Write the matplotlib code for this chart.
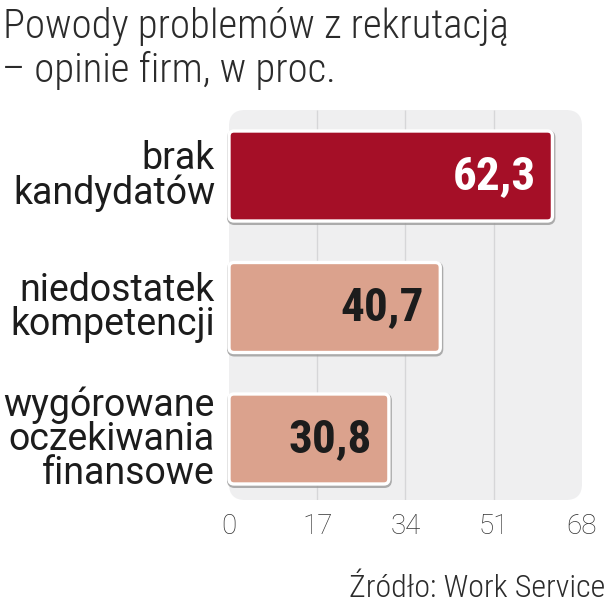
"""Powody problemów z rekrutacją – horizontal bar chart recreation."""
import matplotlib

matplotlib.use("Agg")
import matplotlib.pyplot as plt
from matplotlib.patches import FancyBboxPatch

categories = ["brak\nkandydatów", "niedostatek\nkompetencji",
              "wygórowane\noczekiwania\nfinansowe"]
values = [62.3, 40.7, 30.8]
value_labels = ["62,3", "40,7", "30,8"]
ticks = [0, 17, 34, 51, 68]

BAR_COLORS = ["#a50f27", "#dba28d", "#dba28d"]
TEXT_COLORS = ["white", "#1c1c1c", "#1c1c1c"]
PANEL = "#efeff0"
GRID = "#d6d6d8"
COND = ["Roboto Condensed", "Roboto", "DejaVu Sans"]
ROBOTO = ["Roboto", "DejaVu Sans"]

W, H, DPI = 608, 612, 100
fig = plt.figure(figsize=(W / DPI, H / DPI), dpi=DPI)
fig.patch.set_facecolor("white")

# axes box in pixels (left, top, right, bottom) of the grey panel
L, T, R, B = 229, 110, 582, 500
ax = fig.add_axes([L / W, 1 - B / H, (R - L) / W, (B - T) / H])
y_top, y_bot = -0.502, 2.464
ax.set_xlim(0, 68)
ax.set_ylim(y_bot, y_top)
ax.axis("off")

px_x = (R - L) / 68.0
px_y = (B - T) / (y_bot - y_top)
aspect = px_x / px_y

# rounded grey panel
panel = FancyBboxPatch((0, y_top), 68, y_bot - y_top,
                       boxstyle=f"round,pad=0,rounding_size={16 / px_x}",
                       mutation_aspect=aspect, fc=PANEL, ec="none",
                       zorder=0, clip_on=False)
ax.add_patch(panel)
ax.vlines(ticks[1:-1], y_top, y_bot, color=GRID, lw=1.0, zorder=1)

bar_h = 90 / px_y
r = 5 / px_x
for i, (v, lab, c, tc) in enumerate(zip(values, value_labels, BAR_COLORS, TEXT_COLORS)):
    y0 = i - bar_h / 2
    shadow = FancyBboxPatch((0 + 0.5 / px_x, y0 + 1.5 / px_y), v, bar_h,
                            boxstyle=f"round,pad=0,rounding_size={r}",
                            mutation_aspect=aspect, fc="none", ec="#9a9a9a",
                            lw=3.6, alpha=0.8, zorder=2, clip_on=False)
    ax.add_patch(shadow)
    bar = FancyBboxPatch((0, y0), v, bar_h,
                         boxstyle=f"round,pad=0,rounding_size={r}",
                         mutation_aspect=aspect, fc=c, ec="white",
                         lw=2.4, zorder=3, clip_on=False)
    ax.add_patch(bar)
    ax.annotate(lab, (v, i), xytext=(-12, 0), textcoords="offset points",
                ha="right", va="center", fontsize=34, fontweight="bold",
                family=COND, color=tc, zorder=4)
    ax.text(-14 / px_x, i, categories[i], ha="right", va="center",
            multialignment="right", fontsize=27, family=ROBOTO,
            color="#1c1c1c", linespacing=0.9)

for t in ticks:
    ax.text(t, y_bot + 27 / px_y, str(t), ha="center", va="center",
            fontsize=20, family=ROBOTO, fontweight="light", color="#333333")

fig.text(3 / W, 1 - 38 / H, "Powody problemów z rekrutacją", ha="left",
         va="baseline", fontsize=29.3, family=COND, fontweight="light",
         color="#2b2b2b")
fig.text(2 / W, 1 - 82 / H, "– opinie firm, w proc.", ha="left",
         va="baseline", fontsize=29.3, family=COND, fontweight="light",
         color="#2b2b2b")
fig.text(605 / W, 1 - 597 / H, "Źródło: Work Service", ha="right",
         va="baseline", fontsize=23, family=COND, fontweight="light",
         color="#2b2b2b")

fig.savefig("out.png", dpi=DPI)
